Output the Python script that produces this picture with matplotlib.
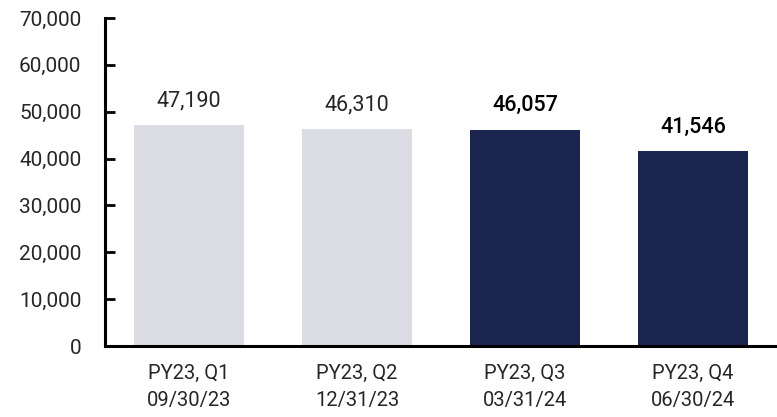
import matplotlib
matplotlib.use("Agg")
import matplotlib.pyplot as plt
from matplotlib.ticker import FuncFormatter

# Quarterly totals
quarters = ["PY23, Q1\n09/30/23", "PY23, Q2\n12/31/23", "PY23, Q3\n03/31/24", "PY23, Q4\n06/30/24"]
values = [47190, 46310, 46057, 41546]
highlight = [False, False, True, True]

light = "#DCDCE4"
dark = "#1B2550"
text_col = "#262626"

plt.rcParams["font.family"] = ["Roboto", "DejaVu Sans"]

fig = plt.figure(figsize=(7.77, 4.17), dpi=100)
ax = fig.add_axes([105 / 777, 1 - 346 / 417, 672 / 777, 328 / 417])

x = list(range(len(values)))
colors = [dark if h else light for h in highlight]
ax.bar(x, values, width=0.66, color=colors, zorder=2)

for xi, v, h in zip(x, values, highlight):
    ax.annotate(f"{v:,}", (xi, v), xytext=(0, 10), textcoords="offset points",
                ha="center", va="bottom", fontsize=15.5,
                fontweight="medium" if h else "normal",
                color="black" if h else text_col)

ax.set_xlim(-0.5, 3.5)
ax.set_ylim(0, 70000)
ax.set_yticks(range(0, 70001, 10000))
ax.yaxis.set_major_formatter(FuncFormatter(lambda v, p: f"{int(v):,}"))
ax.set_xticks(x)
ax.set_xticklabels(quarters, fontsize=14.5, color=text_col, linespacing=1.5)

ax.tick_params(axis="y", direction="in", length=7, width=2, pad=17,
               labelsize=15, labelcolor=text_col)
ax.tick_params(axis="x", length=0, pad=13)

for side in ("top", "right"):
    ax.spines[side].set_visible(False)
for side in ("left", "bottom"):
    ax.spines[side].set_linewidth(2.2)
    ax.spines[side].set_color("black")

fig.savefig("out.png", dpi=100)
